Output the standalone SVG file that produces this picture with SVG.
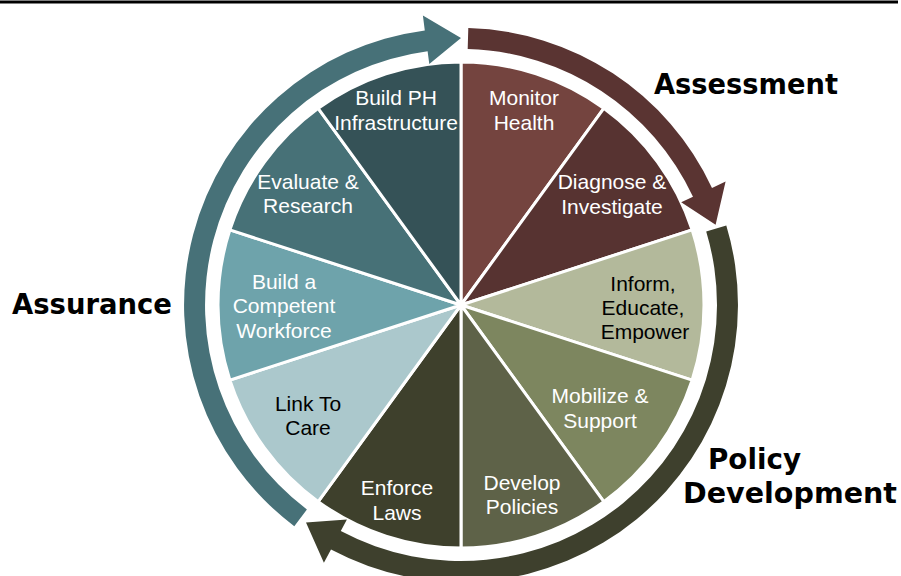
<svg xmlns="http://www.w3.org/2000/svg" width="901" height="576" viewBox="0 0 901 576">
  <style>
    .slice { stroke: #ffffff; stroke-width: 3; stroke-linejoin: round; }
    .lbl { font-family: "Liberation Sans", Arial, sans-serif; font-size: 21px; text-anchor: middle; fill: #ffffff; }
    .lbl.dark { fill: #000000; }
    .phase { font-family: "DejaVu Sans", "Liberation Sans", sans-serif; font-weight: bold; font-size: 29px; fill: #000000; }
  </style>

  <rect width="901" height="576" fill="#ffffff"/>
  <line x1="0" y1="2" x2="898" y2="2" stroke="#000000" stroke-width="3"/>

  <!-- Ten services wheel, centre (461,305), radius 243 -->
  <g id="monitor-health">
    <path class="slice" fill="#74443F" d="M461,305 L461,62 A243,243 0 0 1 603.8,108.4 Z"/>
    <text class="lbl" x="524" y="105">Monitor</text>
    <text class="lbl" x="524" y="130">Health</text>
  </g>
  <g id="diagnose-investigate">
    <path class="slice" fill="#573331" d="M461,305 L603.8,108.4 A243,243 0 0 1 692.1,229.9 Z"/>
    <text class="lbl" x="612" y="189">Diagnose &amp;</text>
    <text class="lbl" x="612" y="214">Investigate</text>
  </g>
  <g id="inform-educate">
    <path class="slice" fill="#B3B99B" d="M461,305 L692.1,229.9 A243,243 0 0 1 692.1,380.1 Z"/>
    <text class="lbl dark" x="643" y="291">Inform,</text>
    <text class="lbl dark" x="643" y="315">Educate,</text>
    <text class="lbl dark" x="645" y="339">Empower</text>
  </g>
  <g id="mobilize-support">
    <path class="slice" fill="#7D865F" d="M461,305 L692.1,380.1 A243,243 0 0 1 603.8,501.6 Z"/>
    <text class="lbl" x="600" y="403">Mobilize &amp;</text>
    <text class="lbl" x="600" y="428">Support</text>
  </g>
  <g id="develop-policies">
    <path class="slice" fill="#5E6248" d="M461,305 L603.8,501.6 A243,243 0 0 1 461,548 Z"/>
    <text class="lbl" x="522" y="490">Develop</text>
    <text class="lbl" x="522" y="514">Policies</text>
  </g>
  <g id="enforce-laws">
    <path class="slice" fill="#3E402C" d="M461,305 L461,548 A243,243 0 0 1 318.2,501.6 Z"/>
    <text class="lbl" x="397" y="495">Enforce</text>
    <text class="lbl" x="397" y="520">Laws</text>
  </g>
  <g id="link-to-care">
    <path class="slice" fill="#ABC8CC" d="M461,305 L318.2,501.6 A243,243 0 0 1 229.9,380.1 Z"/>
    <text class="lbl dark" x="308" y="411">Link To</text>
    <text class="lbl dark" x="308" y="435">Care</text>
  </g>
  <g id="competent-workforce">
    <path class="slice" fill="#6EA3AB" d="M461,305 L229.9,380.1 A243,243 0 0 1 229.9,229.9 Z"/>
    <text class="lbl" x="284" y="289">Build a</text>
    <text class="lbl" x="284" y="313">Competent</text>
    <text class="lbl" x="284" y="338">Workforce</text>
  </g>
  <g id="evaluate-research">
    <path class="slice" fill="#477177" d="M461,305 L229.9,229.9 A243,243 0 0 1 318.2,108.4 Z"/>
    <text class="lbl" x="308" y="189">Evaluate &amp;</text>
    <text class="lbl" x="308" y="213">Research</text>
  </g>
  <g id="build-infrastructure">
    <path class="slice" fill="#355257" d="M461,305 L318.2,108.4 A243,243 0 0 1 461,62 Z"/>
    <text class="lbl" x="396" y="105">Build PH</text>
    <text class="lbl" x="396" y="130">Infrastructure</text>
  </g>

  <!-- Curved phase arrows around the wheel -->
  <g id="connectors">
    <path id="arrow-assessment" fill="#5A3432" d="M468.3,28.1 A277,277 0 0 1 712.0,187.9 L725.6,181.6 L715.6,224.7 L681.2,202.3 L693.0,196.8 A256,256 0 0 0 467.7,49.1 Z"/>
    <path id="arrow-policy" fill="#3E402D" d="M726.3,225.4 A277,277 0 0 1 331.0,549.6 L323.9,562.8 L306.0,522.4 L346.9,519.5 L340.8,531.0 A256,256 0 0 0 706.2,231.4 Z"/>
    <path id="arrow-assurance" fill="#477178" d="M294.3,526.2 A277,277 0 0 1 424.8,30.4 L422.9,15.5 L461,38 L429.3,64.1 L427.6,51.2 A256,256 0 0 0 306.9,509.4 Z"/>
  </g>

  <g id="phase-labels">
    <text class="phase" x="654" y="94" textLength="184" lengthAdjust="spacingAndGlyphs">Assessment</text>
    <text class="phase" x="12" y="314" textLength="160" lengthAdjust="spacingAndGlyphs">Assurance</text>
    <text class="phase" x="708" y="469" textLength="93" lengthAdjust="spacingAndGlyphs">Policy</text>
    <text class="phase" x="683" y="503" textLength="214" lengthAdjust="spacingAndGlyphs">Development</text>
  </g>
</svg>
